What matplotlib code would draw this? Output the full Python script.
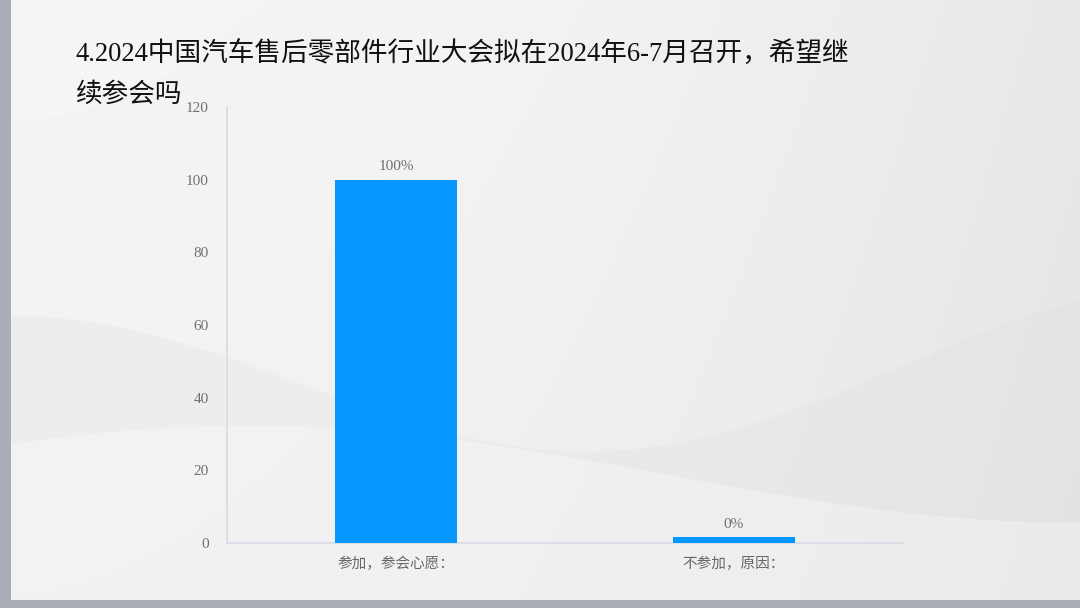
import numpy as np
import matplotlib.pyplot as plt
from matplotlib.patches import Rectangle

categories = ['参加，参会心愿：', '不参加，原因：']
values = [100, 0]
value_labels = ['100%', '0%']
yticks = [0, 20, 40, 60, 80, 100, 120]
title_lines = ['4.2024中国汽车售后零部件行业大会拟在2024年6-7月召开，希望继',
               '续参会吗']

cjk = ['Noto Sans CJK SC', 'DejaVu Sans']
serif = ['Liberation Serif', 'Noto Sans CJK SC']

fig = plt.figure(figsize=(10.8, 6.08), dpi=100)

# background: soft grey gradient with pale waves
bg = fig.add_axes([0, 0, 1, 1], zorder=-10)
bg.set_xlim(0, 1)
bg.set_ylim(0, 1)
bg.axis('off')
gx, gy = np.meshgrid(np.linspace(0, 1, 300), np.linspace(0, 1, 200))
shade = 0.96 - 0.05 * gx ** 2 - 0.015 * (1 - gy)
bg.imshow(shade, extent=[0, 1, 0, 1], origin='lower', cmap='gray',
          vmin=0, vmax=1, aspect='auto', interpolation='bilinear')
xx = np.linspace(0, 1, 200)
wave1 = 0.48 - 0.25 * np.sin(np.pi * xx * 0.9) ** 2 + 0.05 * xx
bg.fill_between(xx, 0, wave1, color='#d9d9d9', alpha=0.2, lw=0)
wave2 = 0.22 + 0.08 * np.sin(np.pi * (xx * 1.3 + 0.2))
bg.fill_between(xx, 0, wave2, color='#ffffff', alpha=0.3, lw=0)
bg.add_patch(Rectangle((0, 0), 11 / 1080, 1, color='#a9aeb6', lw=0))
bg.add_patch(Rectangle((0, 0), 1, 8 / 608, color='#a9aeb6', lw=0))

# title drawn line by line, as in the source slide
for i, line in enumerate(title_lines):
    fig.text(76 / 1080, 1 - (55 + 40 * i) / 608, line, fontsize=19.2,
             family=serif, color='#111111', va='center', ha='left')

ax = fig.add_axes([227 / 1080, 65 / 608, 676 / 1080, 436 / 608])
ax.patch.set_alpha(0)
x = np.arange(len(categories))
# the empty category is still drawn as a thin bar, as in the source
draw_vals = [max(v, 1.6) for v in values]
ax.bar(x, draw_vals, width=0.36, color='#0596ff', zorder=3)
for xi, v, lab in zip(x, draw_vals, value_labels):
    ax.text(xi, v + 1.8, lab, ha='center', va='bottom', fontsize=11,
            family=serif, color='#707070')

ax.set_xlim(-0.5, 1.5)
ax.set_ylim(0, 120)
ax.set_yticks(yticks)
ax.set_yticklabels([str(t) for t in yticks], family=serif, fontsize=11,
                   color='#707070')
ax.set_xticks(x)
ax.set_xticklabels(categories, family=cjk, fontsize=10.5, color='#666666')
ax.tick_params(axis='both', length=0)
ax.tick_params(axis='y', pad=13)
ax.tick_params(axis='x', pad=10)
for side in ['top', 'right']:
    ax.spines[side].set_visible(False)
for side in ['left', 'bottom']:
    ax.spines[side].set_color('#d5dbe8')
    ax.spines[side].set_linewidth(1.2)

fig.savefig('out.png', dpi=100)
